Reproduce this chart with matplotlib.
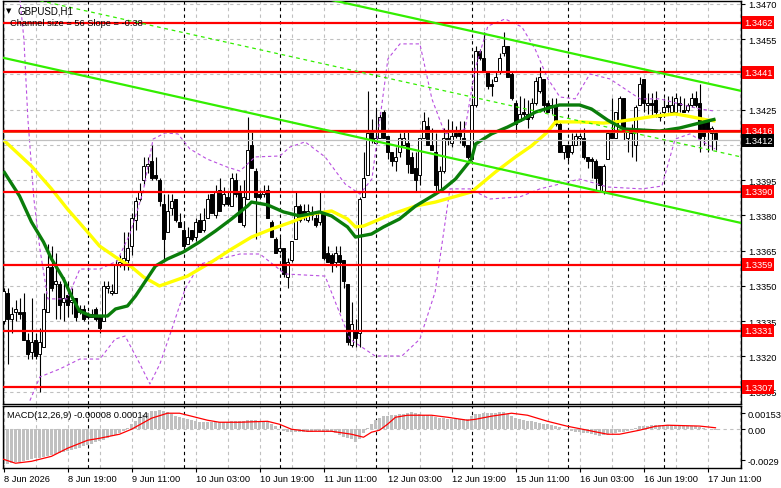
import numpy as np
import matplotlib.pyplot as plt

plt.rcParams['font.family'] = ['Liberation Sans', 'DejaVu Sans']

# ---------------- data (GBPUSD H1, bar 0 = 8 Jun 03:00) ----------------
opens = [1.3335, 1.3347, 1.3336, 1.3339, 1.3339, 1.3339, 1.3327, 1.3322, 1.3327, 1.3321,
         1.3324, 1.3339, 1.3358, 1.3351, 1.3351, 1.3343, 1.3346, 1.3343, 1.3345, 1.3340,
         1.3340, 1.3338, 1.3337, 1.3340, 1.3337, 1.3335, 1.3349, 1.3347, 1.3347, 1.3359,
         1.3359, 1.3361, 1.3367, 1.3378, 1.3387, 1.3395, 1.3401, 1.3403, 1.3397, 1.3395,
         1.3385, 1.3373, 1.3383, 1.3387, 1.3377, 1.3374, 1.3368, 1.3374, 1.3371, 1.3378,
         1.3374, 1.3379, 1.3389, 1.3380, 1.3391, 1.3385, 1.3388, 1.3384, 1.3395, 1.3390,
         1.3376, 1.3387, 1.3410, 1.3399, 1.3389, 1.3389, 1.3391, 1.3377, 1.3370, 1.3365,
         1.3366, 1.3354, 1.3361, 1.3370, 1.3384, 1.3382, 1.3378, 1.3381, 1.3379, 1.3377,
         1.3382, 1.3364, 1.3363, 1.3360, 1.3363, 1.3361, 1.3351, 1.3325, 1.3331, 1.3330,
         1.3388, 1.3397, 1.3416, 1.3411, 1.3413, 1.3424, 1.3414, 1.3407, 1.3403, 1.3407,
         1.3410, 1.3411, 1.3405, 1.3400, 1.3397, 1.3413, 1.3418, 1.3410, 1.3407, 1.3390,
         1.3399, 1.3413, 1.3411, 1.3415, 1.3416, 1.3413, 1.3410, 1.3404, 1.3427, 1.3450,
         1.3447, 1.3441, 1.3436, 1.3437, 1.3441, 1.3449, 1.3452, 1.3440, 1.3428, 1.3420,
         1.3424, 1.3423, 1.3422, 1.3428, 1.3433, 1.3438, 1.3428, 1.3427, 1.3427, 1.3419,
         1.3407, 1.3410, 1.3407, 1.3410, 1.3413, 1.3413, 1.3405, 1.3404, 1.3403, 1.3401,
         1.3390, 1.3404, 1.3415, 1.3413, 1.3418, 1.3430, 1.3413, 1.3417, 1.3410, 1.3427,
         1.3438, 1.3427, 1.3428, 1.3429, 1.3422, 1.3424, 1.3427, 1.3424, 1.3424, 1.3428,
         1.3425, 1.3425, 1.3427, 1.3430, 1.3428, 1.3420, 1.3420, 1.3415, 1.3415]
highs = [1.3349, 1.3349, 1.3341, 1.3344, 1.3345, 1.3347, 1.3330, 1.3345, 1.3330, 1.3332,
         1.3347, 1.3368, 1.3367, 1.3364, 1.3352, 1.3354, 1.3352, 1.3349, 1.3345, 1.3342,
         1.3342, 1.3339, 1.3340, 1.3341, 1.3337, 1.3352, 1.3352, 1.3351, 1.3361, 1.3363,
         1.3373, 1.3373, 1.3381, 1.3388, 1.3394, 1.3405, 1.3405, 1.3410, 1.3405, 1.3396,
         1.3389, 1.3389, 1.3389, 1.3387, 1.3381, 1.3377, 1.3375, 1.3374, 1.3379, 1.3381,
         1.3383, 1.3389, 1.3389, 1.3393, 1.3396, 1.3392, 1.3390, 1.3398, 1.3398, 1.3393,
         1.3395, 1.3422, 1.3416, 1.3400, 1.3391, 1.3393, 1.3393, 1.3378, 1.3371, 1.3371,
         1.3366, 1.3362, 1.3369, 1.3390, 1.3385, 1.3385, 1.3385, 1.3384, 1.3381, 1.3390,
         1.3382, 1.3367, 1.3364, 1.3367, 1.3367, 1.3361, 1.3351, 1.3343, 1.3336, 1.3388,
         1.3407, 1.3433, 1.3421, 1.3425, 1.3424, 1.3425, 1.3414, 1.3407, 1.3409, 1.3415,
         1.3416, 1.3416, 1.3407, 1.3407, 1.3413, 1.3424, 1.3422, 1.3417, 1.3415, 1.3401,
         1.3417, 1.3421, 1.3420, 1.3418, 1.3420, 1.3420, 1.3410, 1.3430, 1.3452, 1.3451,
         1.3458, 1.3441, 1.3438, 1.3441, 1.3449, 1.3458, 1.3452, 1.3441, 1.3429, 1.3431,
         1.3430, 1.3429, 1.3430, 1.3439, 1.3443, 1.3438, 1.3429, 1.3430, 1.3430, 1.3420,
         1.3410, 1.3410, 1.3415, 1.3415, 1.3415, 1.3417, 1.3405, 1.3405, 1.3404, 1.3401,
         1.3402, 1.3416, 1.3430, 1.3424, 1.3431, 1.3430, 1.3417, 1.3419, 1.3427, 1.3439,
         1.3438, 1.3432, 1.3432, 1.3433, 1.3424, 1.3430, 1.3431, 1.3431, 1.3432, 1.3431,
         1.3430, 1.3428, 1.3432, 1.3433, 1.3436, 1.3421, 1.3421, 1.3418, 1.3416]
lows = [1.3334, 1.3317, 1.3330, 1.3335, 1.3336, 1.3327, 1.3319, 1.3319, 1.3319, 1.3305,
        1.3324, 1.3339, 1.3348, 1.3336, 1.3336, 1.3335, 1.3337, 1.3338, 1.3335, 1.3338,
        1.3335, 1.3336, 1.3337, 1.3335, 1.3330, 1.3335, 1.3347, 1.3346, 1.3347, 1.3358,
        1.3357, 1.3357, 1.3363, 1.3374, 1.3386, 1.3393, 1.3398, 1.3395, 1.3395, 1.3384,
        1.3361, 1.3373, 1.3380, 1.3377, 1.3375, 1.3365, 1.3368, 1.3369, 1.3369, 1.3373,
        1.3373, 1.3379, 1.3381, 1.3379, 1.3382, 1.3384, 1.3384, 1.3384, 1.3388, 1.3377,
        1.3375, 1.3387, 1.3400, 1.3370, 1.3387, 1.3388, 1.3379, 1.3371, 1.3364, 1.3364,
        1.3354, 1.3349, 1.3360, 1.3370, 1.3377, 1.3378, 1.3377, 1.3378, 1.3375, 1.3376,
        1.3361, 1.3360, 1.3356, 1.3358, 1.3339, 1.3349, 1.3325, 1.3324, 1.3324, 1.3324,
        1.3388, 1.3397, 1.3411, 1.3411, 1.3413, 1.3413, 1.3404, 1.3401, 1.3399, 1.3405,
        1.3410, 1.3398, 1.3398, 1.3390, 1.3393, 1.3413, 1.3410, 1.3408, 1.3390, 1.3390,
        1.3398, 1.3410, 1.3409, 1.3413, 1.3411, 1.3409, 1.3404, 1.3404, 1.3426, 1.3446,
        1.3441, 1.3434, 1.3431, 1.3437, 1.3440, 1.3448, 1.3439, 1.3429, 1.3415, 1.3420,
        1.3421, 1.3417, 1.3421, 1.3427, 1.3432, 1.3424, 1.3424, 1.3423, 1.3418, 1.3407,
        1.3404, 1.3403, 1.3406, 1.3410, 1.3410, 1.3404, 1.3400, 1.3396, 1.3391, 1.3390,
        1.3389, 1.3404, 1.3413, 1.3413, 1.3417, 1.3412, 1.3407, 1.3405, 1.3403, 1.3427,
        1.3424, 1.3423, 1.3422, 1.3422, 1.3420, 1.3423, 1.3424, 1.3423, 1.3423, 1.3424,
        1.3424, 1.3424, 1.3426, 1.3426, 1.3407, 1.3410, 1.3407, 1.3408, 1.3408]
closes = [1.3348, 1.3336, 1.3338, 1.3340, 1.3338, 1.3327, 1.3321, 1.3326, 1.3320, 1.3326,
          1.3340, 1.3358, 1.3349, 1.3352, 1.3342, 1.3345, 1.3342, 1.3344, 1.3337, 1.3339,
          1.3336, 1.3337, 1.3338, 1.3336, 1.3332, 1.3350, 1.3350, 1.3348, 1.3359, 1.3360,
          1.3362, 1.3366, 1.3379, 1.3386, 1.3390, 1.3401, 1.3402, 1.3396, 1.3396, 1.3386,
          1.3370, 1.3382, 1.3386, 1.3378, 1.3375, 1.3367, 1.3371, 1.3370, 1.3377, 1.3373,
          1.3378, 1.3387, 1.3381, 1.3390, 1.3382, 1.3389, 1.3385, 1.3396, 1.3389, 1.3377,
          1.3388, 1.3408, 1.3400, 1.3388, 1.3388, 1.3390, 1.3379, 1.3371, 1.3364, 1.3366,
          1.3355, 1.3360, 1.3369, 1.3384, 1.3378, 1.3380, 1.3382, 1.3380, 1.3376, 1.3381,
          1.3362, 1.3360, 1.3359, 1.3364, 1.3360, 1.3352, 1.3326, 1.3334, 1.3328, 1.3387,
          1.3396, 1.3415, 1.3412, 1.3413, 1.3422, 1.3413, 1.3407, 1.3403, 1.3405, 1.3413,
          1.3413, 1.3402, 1.3398, 1.3395, 1.3413, 1.3420, 1.3410, 1.3408, 1.3393, 1.3399,
          1.3413, 1.3412, 1.3414, 1.3414, 1.3414, 1.3410, 1.3405, 1.3427, 1.3450, 1.3447,
          1.3441, 1.3435, 1.3435, 1.3439, 1.3447, 1.3452, 1.3439, 1.3430, 1.3419, 1.3423,
          1.3423, 1.3421, 1.3428, 1.3437, 1.3439, 1.3427, 1.3424, 1.3426, 1.3419, 1.3407,
          1.3410, 1.3405, 1.3410, 1.3414, 1.3414, 1.3405, 1.3403, 1.3403, 1.3396, 1.3393,
          1.3401, 1.3415, 1.3413, 1.3424, 1.3430, 1.3416, 1.3416, 1.3415, 1.3426, 1.3436,
          1.3428, 1.3428, 1.3427, 1.3424, 1.3423, 1.3426, 1.3426, 1.3427, 1.3430, 1.3427,
          1.3424, 1.3427, 1.3430, 1.3427, 1.3413, 1.3414, 1.3416, 1.3417, 1.3412]

time_labels = ['8 Jun 2026', '8 Jun 19:00', '9 Jun 11:00', '10 Jun 03:00', '10 Jun 19:00',
               '11 Jun 11:00', '12 Jun 03:00', '12 Jun 19:00', '15 Jun 11:00', '16 Jun 03:00',
               '16 Jun 19:00', '17 Jun 11:00']
label_bars = [0, 16, 32, 48, 64, 80, 96, 112, 128, 144, 160, 176]
day_breaks = [21, 45, 69, 93, 117, 141, 165]

levels = [1.3462, 1.3441, 1.3416, 1.3390, 1.3359, 1.3331, 1.3307]
last_price = 1.3412
price_ticks = [1.3305, 1.3320, 1.3335, 1.3350, 1.3365, 1.3380, 1.3395, 1.3410, 1.3425, 1.3440, 1.3455, 1.3470]
hidden_ticks = [1.3410, 1.3440]   # covered by the level boxes

ma_yellow_bars = [0, 7, 12, 16, 21, 24, 28, 32, 35, 39, 46, 52, 57, 62, 67, 72, 77, 82, 86, 88,
                  90, 97, 103, 108, 117, 123, 128, 132, 136, 138, 144, 150, 153, 158, 163, 168, 171, 176, 178]
ma_yellow = [1.34121, 1.34010, 1.33913, 1.33827, 1.33730, 1.33670, 1.33623, 1.33581, 1.33538, 1.33500,
             1.33542, 1.33602, 1.33657, 1.33708, 1.33742, 1.33772, 1.33806, 1.33819, 1.33785, 1.33751,
             1.33755, 1.33805, 1.33840, 1.33857, 1.33900, 1.33985, 1.34049, 1.34096, 1.34155, 1.34198,
             1.34198, 1.34193, 1.34198, 1.34210, 1.34223, 1.34232, 1.34223, 1.34206, 1.34202]
ma_green_bars = [0, 4, 7, 10, 12, 15, 17, 19, 22, 26, 28, 31, 33, 35, 38, 41, 45, 49, 53, 57,
                 61, 62, 66, 70, 74, 79, 82, 86, 88, 92, 95, 99, 103, 108, 110, 113, 117, 118, 122,
                 126, 130, 133, 137, 139, 144, 147, 151, 155, 164, 169, 173, 178]
ma_green = [1.33989, 1.33883, 1.33772, 1.33687, 1.33615, 1.33530, 1.33457, 1.33393, 1.33372, 1.33372,
            1.33402, 1.33415, 1.33457, 1.33508, 1.33585, 1.33615, 1.33645, 1.33687, 1.33734, 1.33785,
            1.33840, 1.33857, 1.33845, 1.33815, 1.33798, 1.33815, 1.33798, 1.33751, 1.33708, 1.33721,
            1.33751, 1.33785, 1.33840, 1.33891, 1.33913, 1.33955, 1.34040, 1.34104, 1.34147,
            1.34176, 1.34210, 1.34240, 1.34261, 1.34270, 1.34270, 1.34253, 1.34206, 1.34168, 1.34159,
            1.34172, 1.34189, 1.34210]

# envelope bands (dashed violet)
band_up_bars = [3.6, 5.1, 6.1, 7.6, 9.1, 11.1, 15.9, 19.1, 24.1, 28.4, 31.6, 34.9, 37.4, 40.4, 43.6,
                46.6, 50.9, 55.9, 59.1, 62.9, 69.1, 71.6, 75.4, 80.4, 85.4, 89.1, 92.1, 94.1, 96.1,
                99.1, 104.1, 107.1, 110.4, 115.4, 117.9, 121.1, 125.4, 129.6, 132.9, 136.1, 139.1,
                142.9, 146.6, 151.6, 159.1, 164.1, 169.1, 174.1, 177.9]
band_up = [1.34806, 1.34551, 1.34210, 1.33870, 1.33657, 1.33445, 1.33445, 1.33572, 1.33572, 1.33606,
           1.33721, 1.33900, 1.34125, 1.34151, 1.34147, 1.34083, 1.34040, 1.34006, 1.33989, 1.34049,
           1.34053, 1.34091, 1.34113, 1.34049, 1.33934, 1.33891, 1.33955, 1.34210, 1.34466, 1.34530,
           1.34530, 1.34296, 1.34147, 1.34168, 1.34423, 1.34606, 1.34636, 1.34602, 1.34508, 1.34381,
           1.34304, 1.34296, 1.34402, 1.34381, 1.34296, 1.34296, 1.34274, 1.34253, 1.34244]
band_dn_bars = [6.6, 9.1, 14.1, 19.1, 24.1, 27.9, 30.4, 34.1, 36.6, 39.1, 42.1, 45.4, 49.1, 54.1,
                59.1, 64.1, 70.4, 80.4, 86.6, 92.9, 99.6, 104.1, 107.9, 111.6, 116.6, 121.6, 129.1,
                134.1, 139.1, 144.1, 151.1, 159.6, 164.6, 167.9, 171.6, 177.9]
band_dn = [1.33012, 1.33113, 1.33147, 1.33189, 1.33189, 1.33274, 1.33287, 1.33168, 1.33083, 1.33168,
           1.33317, 1.33487, 1.33593, 1.33615, 1.33636, 1.33636, 1.33551, 1.33542, 1.33274, 1.33202,
           1.33202, 1.33274, 1.33474, 1.33913, 1.33913, 1.33870, 1.33879, 1.33913, 1.33934, 1.33955,
           1.33921, 1.33913, 1.33925, 1.34125, 1.34147, 1.34083]

# regression channel end points
chan_bars = [-0.9, 184.4]
chan_upper = [1.35030, 1.34330]
chan_mid = [1.34752, 1.34049]
chan_lower = [1.34474, 1.33768]

# MACD(12,26,9)
macd_hist = np.array([
    -330, -328, -320, -312, -305, -298, -290, -283, -275, -268,
    -260, -250, -242, -233, -224, -215, -207, -196, -185, -173,
    -160, -148, -136, -124, -113, -98, -82, -66, -50, -36,
    -20, 10, 47, 80, 110, 135, 155, 170, 176, 179,
    170, 160, 141, 128, 115, 104, 94, 85, 75, 66,
    64, 64, 65, 66, 68, 70, 72, 75, 78, 80,
    82, 84, 85, 83, 80, 78, 75, 50, 28, 5,
    -19, -24, -26, -28, -28, -26, -24, -22, -19, -21,
    -24, -26, -28, -40, -55, -70, -82, -94, -123, -90,
    -40, 10, 50, 85, 110, 123, 128, 133, 137, 141,
    148, 155, 160, 152, 145, 138, 130, 123, 115, 108,
    102, 94, 94, 94, 94, 94, 100, 123, 140, 148,
    151, 153, 155, 157, 158, 160, 140, 123, 110, 100,
    90, 82, 75, 68, 60, 53, 47, 38, 28, 19,
    6, -6, -19, -24, -29, -33, -38, -47, -56, -66,
    -56, -47, -38, -33, -28, -24, -19, -3, 12, 28,
    31, 35, 38, 38, 38, 38, 38, 38, 35, 33,
    30, 28, 28, 26, 20, 10, 2, -4, -8]) * 1e-5
signal_bars = [0, 3, 7, 12, 16, 21, 24, 29, 32, 37, 41, 44, 47, 51, 54, 59, 66, 69, 72, 76, 82, 87,
               90, 92, 94, 96, 98, 101, 107, 111, 116, 118, 122, 127, 131, 136, 141, 146, 151, 154,
               159, 163, 166, 174, 178]
signal = np.array([-283, -320, -302, -255, -179, -104, -85, -47, 0, 104, 151, 151, 123, 85, 66, 66,
                   75, 47, 0, -19, -19, -47, -75, -28, -9, 47, 113, 132, 132, 113, 85, 94, 123, 151,
                   132, 75, 28, -9, -47, -47, -9, 28, 38, 30, 14]) * 1e-5

# ---------------- figure ----------------
W, H = 781, 489
fig = plt.figure(figsize=(W / 100, H / 100), dpi=100)
ax = fig.add_axes([3 / W, 1 - 405 / H, 738 / W, 403 / H])
ax2 = fig.add_axes([3 / W, 1 - 469 / H, 738 / W, 62 / H])

n = len(closes)
x = np.arange(n)
o = np.array(opens); c = np.array(closes); hi = np.array(highs); lo = np.array(lows)

grid_kw = dict(color='#c0c0c0', lw=0.8, ls=(0, (3, 3)), zorder=0)
sep_kw = dict(color='black', lw=0.8, ls=(0, (3, 3)), zorder=0.5)

for a in (ax, ax2):
    a.set_xlim(-0.125, 184.375)
    a.set_facecolor('white')
    for k in range(0, 185, 8):
        a.axvline(k, **grid_kw)
    for d in day_breaks:
        a.axvline(d, **sep_kw)
    for s in a.spines.values():
        s.set_color('black')
        s.set_linewidth(1)

# price panel
ax.set_ylim(1.329977, 1.347125)
for t in price_ticks:
    ax.axhline(t, **grid_kw)

# candles
ax.vlines(x, lo, hi, color='black', lw=0.8, zorder=2)
body_lo = np.minimum(o, c)
body_h = np.maximum(np.abs(c - o), 0.00002)
bull = c > o
ax.bar(x[bull], body_h[bull], bottom=body_lo[bull], width=0.62, color='white',
       edgecolor='black', linewidth=0.7, zorder=3)
ax.bar(x[~bull], body_h[~bull], bottom=body_lo[~bull], width=0.62, color='black',
       edgecolor='black', linewidth=0.7, zorder=3)

# indicators
ax.plot(band_up_bars, band_up, color='#b94fe0', lw=0.8, ls=(0, (3, 2.5)), zorder=4)
ax.plot(band_dn_bars, band_dn, color='#b94fe0', lw=0.8, ls=(0, (3, 2.5)), zorder=4)
ax.plot(ma_yellow_bars, ma_yellow, color='#ffff00', lw=2.4, zorder=4.5, solid_capstyle='butt')
ax.plot(ma_green_bars, ma_green, color='#0a7d0a', lw=2.4, zorder=4.6, solid_capstyle='butt')

# levels
ax.axhline(last_price, color='#c0c0c0', lw=0.9, zorder=4.7)
ax.axhline(1.34155, color='#e8501e', lw=0.7, zorder=4.7)
for lv in levels:
    ax.axhline(lv, color='#ff0000', lw=1.6, zorder=5)

# channel
ax.plot(chan_bars, chan_upper, color='#33ee00', lw=1.6, zorder=5.5)
ax.plot(chan_bars, chan_lower, color='#33ee00', lw=1.6, zorder=5.5)
ax.plot(chan_bars, chan_mid, color='#33ee00', lw=0.9, ls=(0, (3, 3)), zorder=5.5)

ax.yaxis.tick_right()
ax.set_yticks(price_ticks)
ax.set_yticklabels(['' if t in hidden_ticks else '%.4f' % t for t in price_ticks])
ax.tick_params(axis='y', labelsize=6.7, length=3, width=0.8, pad=2, colors='black')
ax.set_xticks([])

ytr = ax.get_yaxis_transform()
for lv in levels:
    ax.text(1.004, lv, '%.4f' % lv, transform=ytr, ha='left', va='center', fontsize=6.7,
            color='white', clip_on=False, zorder=10,
            bbox=dict(boxstyle='square,pad=0.22', fc='#ff0000', ec='none'))
ax.text(1.004, last_price, '%.4f' % last_price, transform=ytr, ha='left', va='center',
        fontsize=6.7, color='white', clip_on=False, zorder=10,
        bbox=dict(boxstyle='square,pad=0.22', fc='black', ec='none'))

# MACD panel
ax2.set_ylim(-0.00365, 0.00219)
ax2.axhline(0, **grid_kw)
ax2.bar(x, macd_hist, width=0.55, color='#c0c0c0', zorder=2)
ax2.plot(signal_bars, signal, color='#ff0000', lw=0.9, zorder=3)
ax2.yaxis.tick_right()
ax2.set_yticks([0.00153, 0.0, -0.0029])
ax2.set_yticklabels(['0.00153', '0.00', '-0.0029'])
ax2.tick_params(axis='y', labelsize=6.7, length=3, width=0.8, pad=2)
ax2.set_xticks(label_bars)
ax2.set_xticklabels(time_labels, ha='left')
ax2.tick_params(axis='x', labelsize=6.7, length=3, width=0.8, pad=1.5)

# header texts
fig.text(6 / W, 1 - 11 / H, '\u25bc', fontsize=5, va='center', ha='left', family='DejaVu Sans')
fig.text(18 / W, 1 - 11 / H, 'GBPUSD,H1', fontsize=7, va='center', ha='left')
fig.text(10 / W, 1 - 24 / H, 'Channel size = 56 Slope = -0.38', fontsize=6.7, va='center', ha='left')
fig.text(7 / W, 1 - 416 / H, 'MACD(12,26,9) -0.00008 0.00014', fontsize=6.7, va='center', ha='left')

fig.savefig('out.png', dpi=100)
